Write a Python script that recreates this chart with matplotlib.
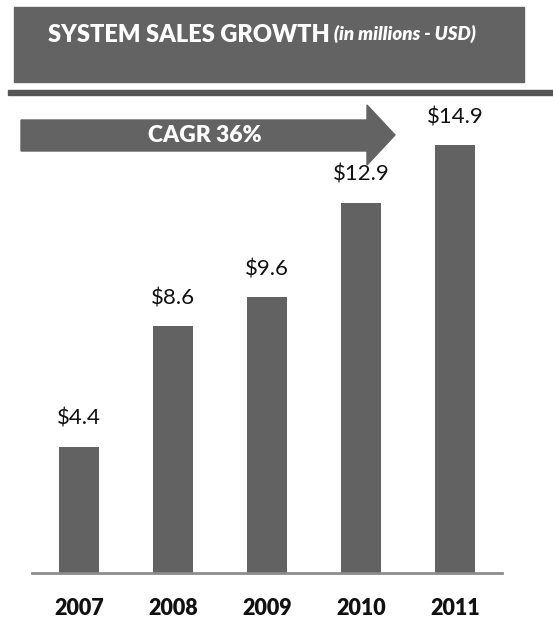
import matplotlib
matplotlib.use("Agg")
import matplotlib.pyplot as plt
from matplotlib.patches import Rectangle, Polygon

plt.rcParams["font.family"] = ["Lato", "DejaVu Sans"]

years = ["2007", "2008", "2009", "2010", "2011"]
sales = [4.4, 8.6, 9.6, 12.9, 14.9]
cagr_label = "CAGR 36%"

GREY = "#636363"
W, H = 553, 619

fig = plt.figure(figsize=(W / 100, H / 100), dpi=100)

# Overlay in pixel units for the header band and the growth arrow
deco = fig.add_axes([0, 0, 1, 1])
deco.set_xlim(0, W)
deco.set_ylim(H, 0)
deco.axis("off")

deco.add_patch(Rectangle((14, 7), 510, 75, color=GREY, zorder=1))
deco.add_patch(Rectangle((8, 90), W - 8, 5, color="#555555", zorder=1))

t1 = deco.text(48, 35, "SYSTEM SALES GROWTH", color="white", fontsize=17,
               fontweight="heavy", va="center", ha="left")
deco.annotate(" (in millions - USD)", xy=(1, 0.15), xycoords=t1,
              color="white", fontsize=13.5, fontweight="heavy",
              fontstyle="italic", va="bottom", ha="left")

arrow = Polygon([(21, 120), (367, 120), (367, 105), (395, 135),
                 (367, 165), (367, 151), (21, 151)],
                closed=True, color=GREY, zorder=2)
deco.add_patch(arrow)
deco.text(205, 136, cagr_label, color="white", fontsize=16.5,
          fontweight="heavy", ha="center", va="center", zorder=3)

# Bar chart
ax = fig.add_axes([32 / W, (H - 573) / H, 470 / W, 473 / H])
ax.patch.set_alpha(0)
x = list(range(len(years)))
ax.bar(x, sales, width=0.42, color="#626262", zorder=2)
for xi, v in zip(x, sales):
    ax.text(xi, v + 0.98, f"${v}", ha="center", va="center",
            fontsize=16, color="#111111")

ax.set_xlim(-0.5, len(years) - 0.5)
ax.set_ylim(0, 473 / 28.7)
ax.set_yticks([])
ax.set_xticks(x)
ax.set_xticklabels(years, fontsize=15.5, fontweight="heavy", color="#111111")
ax.tick_params(axis="x", length=0, pad=18)
for s in ("left", "right", "top"):
    ax.spines[s].set_visible(False)
ax.spines["bottom"].set_color("#8c8c8c")
ax.spines["bottom"].set_linewidth(2)

fig.savefig("out.png", dpi=100)
